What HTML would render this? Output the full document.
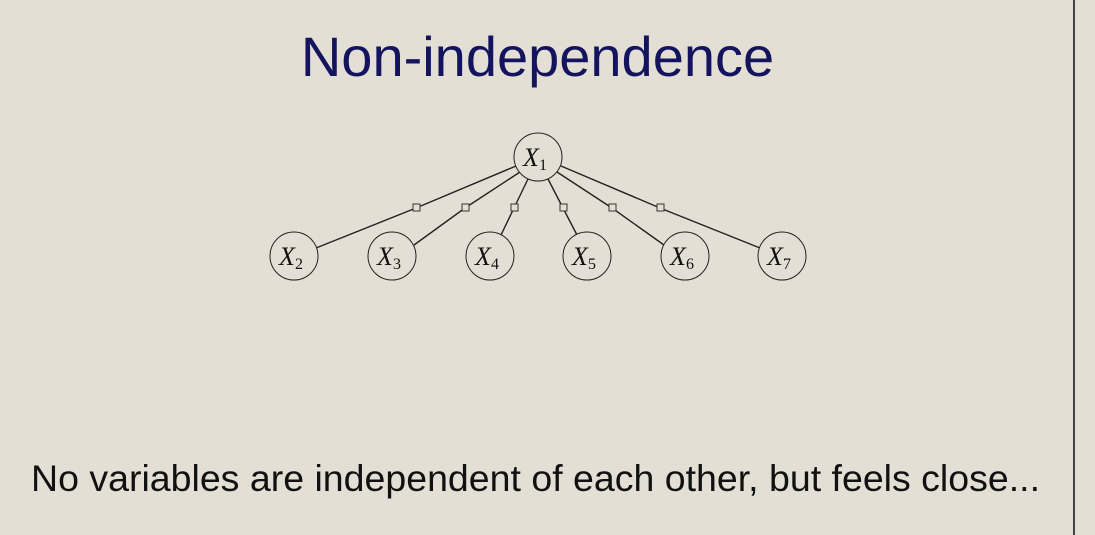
<!DOCTYPE html>
<html><head><style>
html,body{margin:0;padding:0;}
body{width:1095px;height:535px;background:#e4dfd4;position:relative;overflow:hidden;font-family:"Liberation Sans",sans-serif;}
.t{position:absolute;left:0;width:1075px;text-align:center;top:24px;font-size:56px;color:#14145e;}
.b{position:absolute;left:31px;top:457px;font-size:37.5px;color:#111;white-space:nowrap;}
.v{position:absolute;left:1073px;top:0;width:2px;height:535px;background:#444;}
</style></head><body>
<div class="t">Non-independence</div>
<svg width="1095" height="535" style="position:absolute;left:0;top:0">
<g stroke="#222" stroke-width="1.4" fill="none">
<polyline points="516,166 416,208 316,248"/>
<polyline points="520,172 465,208 414,245"/>
<polyline points="528,179 514,208 501,235"/>
<polyline points="548,179 563,208 577,235"/>
<polyline points="557,172 612,208 664,245"/>
<polyline points="561,166 660,208 760,248"/>
</g>
<g fill="#e4dfd4" stroke="#333" stroke-width="1">
<rect x="413" y="204" width="7" height="7"/><rect x="462" y="204" width="7" height="7"/>
<rect x="511" y="204" width="7" height="7"/><rect x="560" y="204" width="7" height="7"/>
<rect x="609" y="204" width="7" height="7"/><rect x="657" y="204" width="7" height="7"/>
</g>
<g fill="#e4dfd4" stroke="#222" stroke-width="1">
<circle cx="538" cy="157" r="24"/>
<circle cx="294" cy="256" r="24"/><circle cx="392" cy="256" r="24"/><circle cx="490" cy="256" r="24"/>
<circle cx="587" cy="256" r="24"/><circle cx="685" cy="256" r="24"/><circle cx="782" cy="256" r="24"/>
</g>
<g font-family="Liberation Serif,serif" font-style="italic" font-size="26" fill="#111" text-anchor="middle">
<text x="535" y="166">X<tspan font-style="normal" font-size="16" dy="4">1</tspan></text>
<text x="291" y="265">X<tspan font-style="normal" font-size="16" dy="4">2</tspan></text>
<text x="389" y="265">X<tspan font-style="normal" font-size="16" dy="4">3</tspan></text>
<text x="487" y="265">X<tspan font-style="normal" font-size="16" dy="4">4</tspan></text>
<text x="584" y="265">X<tspan font-style="normal" font-size="16" dy="4">5</tspan></text>
<text x="682" y="265">X<tspan font-style="normal" font-size="16" dy="4">6</tspan></text>
<text x="779" y="265">X<tspan font-style="normal" font-size="16" dy="4">7</tspan></text>
</g>
</svg>
<div class="b">No variables are independent of each other, but feels close...</div>
<div class="v"></div>
</body></html>
